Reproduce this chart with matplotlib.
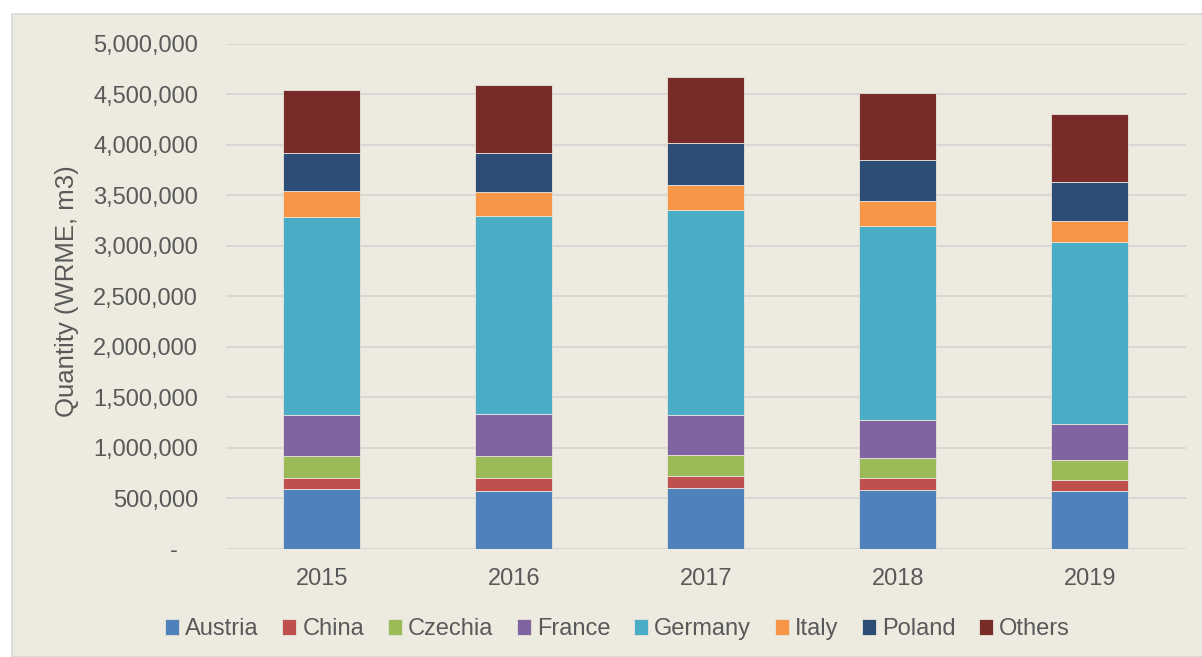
import matplotlib.pyplot as plt
from matplotlib.patches import Rectangle
from matplotlib.ticker import FuncFormatter, MultipleLocator

years = ["2015", "2016", "2017", "2018", "2019"]
austria = [586000, 572000, 599000, 576000, 569000]
china = [115000, 126000, 119000, 119000, 112000]
czechia = [212000, 215000, 205000, 201000, 195000]
france = [412000, 422000, 396000, 379000, 354000]
germany = [1964000, 1957000, 2032000, 1921000, 1805000]
italy = [251000, 241000, 248000, 248000, 215000]
poland = [376000, 390000, 416000, 409000, 386000]
others = [625000, 666000, 653000, 664000, 666000]

series = ["Austria", "China", "Czechia", "France", "Germany", "Italy", "Poland", "Others"]
values = [austria, china, czechia, france, germany, italy, poland, others]
colors = ["#4F81BD", "#C0504D", "#9BBB59", "#8064A2", "#4BACC6", "#F79646", "#2C4D75", "#772C2A"]

plt.rcParams['font.family'] = ['Liberation Sans', 'DejaVu Sans']
text_col = "#595959"
bg = "#EDEAE0"

fig = plt.figure(figsize=(12.02, 6.57), dpi=100, facecolor="white")
# chart area panel with light border
fig.patches.append(Rectangle((12 / 1202, 0), 1.0, 643 / 657, transform=fig.transFigure,
                             facecolor=bg, edgecolor="#D9D9D9", linewidth=1.2, zorder=-10))

ax = fig.add_axes([0.1878, 0.1651, 0.7987, 0.768])
ax.set_facecolor(bg)
ax.patch.set_alpha(0)

x = range(len(years))
bottom = [0] * len(years)
for name, vals, c in zip(series, values, colors):
    ax.bar(x, vals, width=0.4, bottom=bottom, color=c, label=name,
           edgecolor="#E8E4DA", linewidth=0.6, zorder=3)
    bottom = [b + v for b, v in zip(bottom, vals)]

ax.set_xlim(-0.5, len(years) - 0.5)
ax.set_ylim(0, 5000000)
ax.yaxis.set_major_locator(MultipleLocator(500000))
ax.yaxis.set_major_formatter(FuncFormatter(lambda v, p: "-   " if v == 0 else f"{int(v):,}"))
ax.set_xticks(list(x))
ax.set_xticklabels(years)
ax.grid(axis="y", color="#D6D6D6", linewidth=1.3, zorder=0)
for s in ax.spines.values():
    s.set_visible(False)
ax.tick_params(axis="y", length=0, pad=20, labelsize=17, labelcolor=text_col)
ax.tick_params(axis="x", length=0, pad=14, labelsize=17, labelcolor=text_col)

ax.set_ylabel("Quantity (WRME, m3)", fontsize=18.5, color=text_col)
ax.yaxis.set_label_coords(-0.153, 0.51)

fig.legend(loc="center", bbox_to_anchor=(0.5137, 0.0426), ncol=8, frameon=False,
           fontsize=17, labelcolor=text_col, handlelength=0.6, handleheight=0.65,
           handletextpad=0.25, columnspacing=1.0)

fig.savefig("out.png", dpi=100, facecolor="white")
